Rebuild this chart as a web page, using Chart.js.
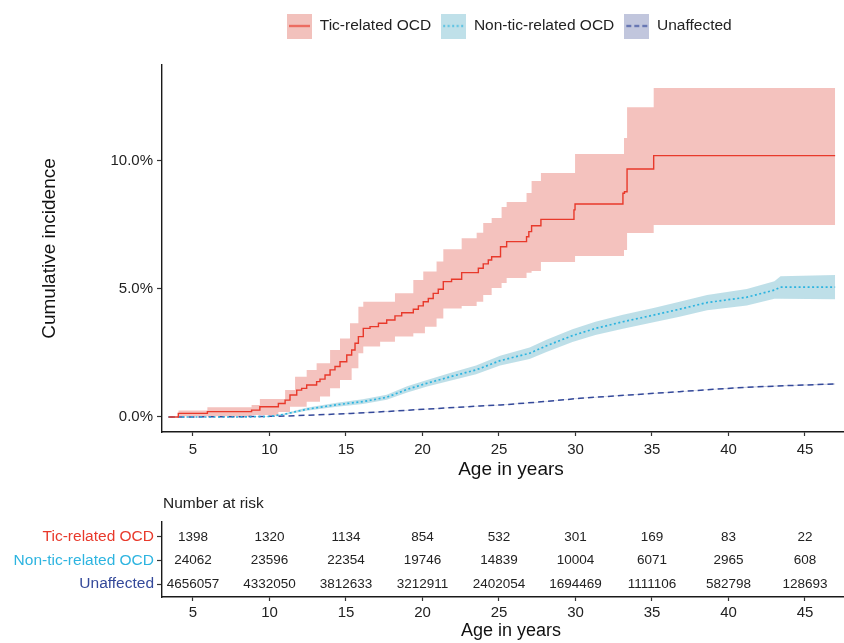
<!DOCTYPE html>
<html><head><meta charset="utf-8">
<script src="https://cdn.jsdelivr.net/npm/chart.js@4/dist/chart.umd.min.js"></script>
<style>
html,body{margin:0;padding:0;background:#fff;overflow:hidden;width:844px;height:643px;}
#c1{position:absolute;left:0;top:0;}
#c2{position:absolute;left:0;top:490px;}
</style></head><body>
<canvas id="c1" width="862" height="490"></canvas>
<canvas id="c2" width="862" height="153"></canvas>
<script>
const FONT = "'Liberation Sans', Arial, Helvetica, sans-serif";
const seriesNames = ['Tic-related OCD', 'Non-tic-related OCD', 'Unaffected'];

// Tic-related OCD cumulative incidence (%), step function
const ticAge = [3.4, 4.04, 5.94, 8.83, 9.37, 10.58, 11.02, 11.34, 11.78, 12.1, 12.43, 13.08, 13.3, 13.63, 13.96, 14.28, 14.61, 15.05, 15.37, 15.59, 15.81, 16.13, 16.57, 17.12, 17.66, 18.2, 18.64, 19.4, 19.73, 20.05, 20.38, 20.7, 21.03, 21.36, 21.9, 22.56, 23.65, 23.97, 24.3, 24.52, 25.1, 25.5, 26.8, 26.95, 27.13, 27.74, 29.9, 29.97, 33.1, 33.2, 33.37, 35.11, 46.97];
const ticCI = [0, 0.14, 0.21, 0.27, 0.40, 0.53, 0.66, 0.86, 1.05, 1.12, 1.25, 1.38, 1.48, 1.64, 1.84, 1.97, 2.16, 2.42, 2.62, 2.88, 3.14, 3.46, 3.53, 3.66, 3.79, 3.95, 4.07, 4.21, 4.34, 4.50, 4.63, 4.83, 4.99, 5.29, 5.38, 5.64, 5.81, 5.98, 6.13, 6.26, 6.65, 6.85, 7.04, 7.24, 7.47, 7.72, 8.09, 8.32, 8.74, 8.80, 9.69, 10.21, 10.21];
const ticBandAge = [4.04, 5.94, 8.83, 9.37, 10.58, 11.02, 11.34, 11.67, 12.43, 13.08, 13.3, 13.96, 14.61, 15.26, 15.37, 15.81, 16.13, 17.23, 18.2, 19.4, 20.05, 20.16, 20.92, 21.36, 22.56, 23.54, 23.97, 24.52, 25.17, 25.5, 26.8, 27.13, 27.74, 29.97, 33.17, 33.37, 35.11, 46.97];
const ticUpper = [0.25, 0.38, 0.47, 0.70, 0.70, 1.05, 1.05, 1.57, 1.84, 2.10, 2.10, 2.62, 3.07, 3.66, 3.66, 4.31, 4.50, 4.50, 4.83, 5.35, 5.68, 5.68, 6.07, 6.55, 6.98, 7.20, 7.58, 7.77, 8.20, 8.40, 8.75, 9.22, 9.53, 10.27, 10.90, 12.10, 12.85, 12.85];
const ticLower = [0.03, 0.03, 0.08, 0.08, 0.20, 0.20, 0.40, 0.40, 0.60, 0.60, 0.80, 1.12, 1.45, 1.45, 1.90, 2.49, 2.75, 2.94, 3.14, 3.27, 3.27, 3.53, 3.85, 4.24, 4.34, 4.50, 4.77, 5.04, 5.23, 5.43, 5.63, 5.70, 6.05, 6.29, 6.52, 7.19, 7.50, 7.50];

// Non-tic-related OCD
const nonTicAge = [3.4, 8.0, 10.0, 10.9, 12.4, 14.4, 16.1, 17.66, 19.0, 20.3, 21.8, 23.5, 25.07, 27.0, 28.1, 29.8, 31.3, 33.1, 35.1, 36.8, 38.6, 41.2, 43.0, 43.4, 46.97];
const nonTicCI = [0, 0, 0.02, 0.1, 0.3, 0.48, 0.6, 0.77, 1.08, 1.32, 1.57, 1.84, 2.2, 2.49, 2.78, 3.18, 3.46, 3.72, 3.98, 4.21, 4.47, 4.68, 4.96, 5.07, 5.07];
const nonTicUpper = [0, 0, 0.03, 0.13, 0.36, 0.56, 0.69, 0.87, 1.2, 1.45, 1.72, 2.01, 2.39, 2.71, 3.02, 3.43, 3.72, 3.99, 4.26, 4.5, 4.77, 5.0, 5.3, 5.5, 5.55];
const nonTicLower = [0, 0, 0.01, 0.07, 0.24, 0.4, 0.51, 0.67, 0.96, 1.19, 1.42, 1.67, 2.01, 2.27, 2.54, 2.93, 3.2, 3.45, 3.7, 3.92, 4.17, 4.36, 4.62, 4.62, 4.6];

// Unaffected
const unaffAge = [3.4, 8.0, 10.6, 13.0, 15.3, 17.5, 20.05, 23.76, 25.1, 27.5, 30.3, 33.5, 36.8, 39.0, 41.2, 44.0, 46.97];
const unaffCI = [0, 0.01, 0.03, 0.08, 0.14, 0.21, 0.3, 0.43, 0.47, 0.58, 0.73, 0.86, 0.99, 1.08, 1.16, 1.23, 1.29];
const unaffUpper = [0, 0.01, 0.03, 0.08, 0.15, 0.22, 0.31, 0.44, 0.48, 0.59, 0.74, 0.87, 1.0, 1.09, 1.18, 1.25, 1.31];
const unaffLower = [0, 0.01, 0.03, 0.08, 0.13, 0.2, 0.29, 0.42, 0.46, 0.57, 0.72, 0.85, 0.98, 1.07, 1.14, 1.21, 1.27];

// Axis ticks
const xTicks = [5, 10, 15, 20, 25, 30, 35, 40, 45];
const yTicks = [0, 5, 10];

// Number at risk table
const riskAges = [5, 10, 15, 20, 25, 30, 35, 40, 45];
const riskTic = [1398, 1320, 1134, 854, 532, 301, 169, 83, 22];
const riskNonTic = [24062, 23596, 22354, 19746, 14839, 10004, 6071, 2965, 608];
const riskUnaff = [4656057, 4332050, 3812633, 3212911, 2402054, 1694469, 1111106, 582798, 128693];

// ---- styling ----
const RED = '#E8392B', CYAN = '#2DB4E0', BLUE = '#34499A';
const RED_FILL = 'rgba(231,120,110,0.45)', CYAN_FILL = 'rgba(110,185,205,0.45)', BLUE_FILL = 'rgba(100,115,175,0.35)';
const TXT = '#222';
const X_MIN = 2.974, X_MAX = 48.595;

const pts = (xs, ys) => xs.map((x, i) => ({x: x, y: ys[i]}));

function swatch(fill, line, dash) {
  const c = document.createElement('canvas');
  c.width = 25; c.height = 25;
  const g = c.getContext('2d');
  g.fillStyle = fill; g.fillRect(0, 0, 25, 25);
  g.strokeStyle = line; g.lineWidth = 1.5; g.setLineDash(dash);
  g.beginPath(); g.moveTo(2, 12.5); g.lineTo(23, 12.5); g.stroke();
  return c;
}
const legendItems = [
  {text: seriesNames[0], pointStyle: swatch('#F2C1BC', RED, []), fontColor: TXT, datasetIndex: 0, hidden: false, lineWidth: 0},
  {text: seriesNames[1], pointStyle: swatch('#BFE0E9', CYAN, [2, 2.5]), fontColor: TXT, datasetIndex: 1, hidden: false, lineWidth: 0},
  {text: seriesNames[2], pointStyle: swatch('#C1C6DD', BLUE, [5, 3]), fontColor: TXT, datasetIndex: 2, hidden: false, lineWidth: 0}
];

const legendPos = {
  id: 'legendPos',
  beforeLayout(chart) {
    const lg = chart.legend;
    if (lg && !lg._patched) {
      const f = lg.fit.bind(lg);
      lg.fit = function () { f(); this.height = 65; };
      lg._patched = true;
    }
  },
  afterLayout(chart) {
    const lg = chart.legend;
    if (lg) { lg.left = 277; lg.top = 8.25; }
  }
};

const axisGrid = (len) => ({display: true, drawOnChartArea: false, drawTicks: true, tickLength: len, color: '#333', tickWidth: 1.2});
const axisBorder = {display: true, color: '#1a1a1a', width: 1.4};

new Chart(document.getElementById('c1'), {
  type: 'line',
  data: {
    datasets: [
      {label: seriesNames[0], data: pts(ticAge, ticCI), borderColor: RED, borderWidth: 1.4, stepped: 'before', pointRadius: 0, fill: false},
      {label: seriesNames[1], data: pts(nonTicAge, nonTicCI), borderColor: CYAN, borderWidth: 1.7, borderDash: [2, 2.5], pointRadius: 0, fill: false},
      {label: seriesNames[2], data: pts(unaffAge, unaffCI), borderColor: BLUE, borderWidth: 1.5, borderDash: [6, 4], pointRadius: 0, fill: false},
      {label: 'tic upper', data: pts(ticBandAge, ticUpper), borderWidth: 0, stepped: 'before', pointRadius: 0, fill: false},
      {label: 'tic lower', data: pts(ticBandAge, ticLower), borderWidth: 0, stepped: 'before', pointRadius: 0, fill: {target: 3}, backgroundColor: RED_FILL},
      {label: 'non upper', data: pts(nonTicAge, nonTicUpper), borderWidth: 0, pointRadius: 0, fill: false},
      {label: 'non lower', data: pts(nonTicAge, nonTicLower), borderWidth: 0, pointRadius: 0, fill: {target: 5}, backgroundColor: CYAN_FILL},
      {label: 'un upper', data: pts(unaffAge, unaffUpper), borderWidth: 0, pointRadius: 0, fill: false},
      {label: 'un lower', data: pts(unaffAge, unaffLower), borderWidth: 0, pointRadius: 0, fill: {target: 7}, backgroundColor: BLUE_FILL}
    ]
  },
  options: {
    responsive: false, animation: false, devicePixelRatio: 1,
    layout: {padding: {left: 0, right: 2, top: 0, bottom: 0}},
    plugins: {
      legend: {
        display: true, position: 'top', align: 'start',
        labels: {
          usePointStyle: true, pointStyleWidth: 25, padding: 10,
          font: {family: FONT, size: 15.5}, color: TXT,
          generateLabels: () => legendItems
        }
      },
      tooltip: {enabled: false},
      filler: {drawTime: 'beforeDatasetsDraw'}
    },
    scales: {
      x: {
        type: 'linear', min: X_MIN, max: X_MAX,
        afterFit: s => { s.height = 58; },
        afterBuildTicks: s => { s.ticks = xTicks.map(v => ({value: v})); },
        ticks: {font: {family: FONT, size: 15}, color: TXT, padding: 5, maxRotation: 0, autoSkip: false},
        grid: axisGrid(4), border: axisBorder,
        title: {display: true, text: 'Age in years', font: {family: FONT, size: 19}, color: '#111', padding: {top: 0, bottom: 8.6}}
      },
      y: {
        type: 'linear', min: -0.586, max: 13.75,
        afterFit: s => { s.width = 162; },
        afterBuildTicks: s => { s.ticks = yTicks.map(v => ({value: v})); },
        ticks: {font: {family: FONT, size: 15}, color: TXT, padding: 4, callback: v => v.toFixed(1) + '%'},
        grid: axisGrid(5), border: axisBorder,
        title: {display: true, text: 'Cumulative incidence', font: {family: FONT, size: 19}, color: '#111', padding: {top: 38.6, bottom: 0}}
      }
    }
  },
  plugins: [legendPos]
});

const rowColors = [RED, CYAN, BLUE];
const riskRows = [riskTic, riskNonTic, riskUnaff];
const riskText = {
  id: 'riskText',
  afterDraw(chart) {
    const {ctx, scales: {x, y}} = chart;
    ctx.save();
    ctx.fillStyle = TXT;
    ctx.textAlign = 'center';
    ctx.textBaseline = 'middle';
    ctx.font = '13.5px ' + FONT;
    riskRows.forEach((row, r) => {
      riskAges.forEach((a, i) => {
        ctx.fillText(String(row[i]), x.getPixelForValue(a), y.getPixelForValue(r + 1));
      });
    });
    ctx.textAlign = 'left';
    ctx.font = '15.5px ' + FONT;
    ctx.fillText('Number at risk', chart.chartArea.left + 1, 14);
    ctx.restore();
  }
};

new Chart(document.getElementById('c2'), {
  type: 'line',
  data: {datasets: []},
  options: {
    responsive: false, animation: false, devicePixelRatio: 1,
    layout: {padding: {left: 0, right: 2, top: 32, bottom: 0}},
    plugins: {legend: {display: false}, tooltip: {enabled: false}},
    scales: {
      x: {
        type: 'linear', min: X_MIN, max: X_MAX,
        afterFit: s => { s.height = 46; },
        afterBuildTicks: s => { s.ticks = riskAges.map(v => ({value: v})); },
        ticks: {font: {family: FONT, size: 15}, color: TXT, padding: 3, maxRotation: 0, autoSkip: false},
        grid: axisGrid(4), border: axisBorder,
        title: {display: true, text: 'Age in years', font: {family: FONT, size: 18}, color: '#111', padding: {top: 0, bottom: 1}}
      },
      y: {
        type: 'linear', reverse: true, min: 0.362, max: 3.553,
        afterFit: s => { s.width = 162; },
        afterBuildTicks: s => { s.ticks = [1, 2, 3].map(v => ({value: v})); },
        ticks: {font: {family: FONT, size: 15.5}, padding: 3, color: c => rowColors[c.index] || TXT, callback: v => seriesNames[v - 1]},
        grid: axisGrid(5), border: axisBorder
      }
    }
  },
  plugins: [riskText]
});
</script>
</body></html>
